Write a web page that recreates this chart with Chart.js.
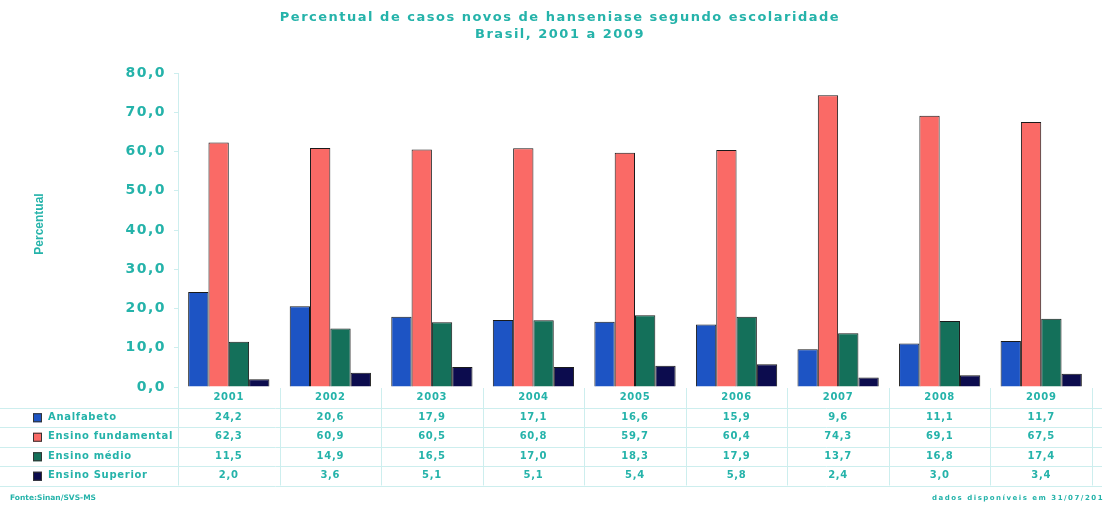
<!DOCTYPE html>
<html>
<head>
<meta charset="utf-8">
<script src="https://cdn.jsdelivr.net/npm/chart.js@4.4.3/dist/chart.umd.min.js"></script>
<style>
  html, body { margin: 0; padding: 0; background: #fff; }
  #wrap { width: 1106px; height: 510px; position: relative; }
</style>
</head>
<body>
<div id="wrap"><canvas id="chart"></canvas></div>
<script>
// dados (Sinan/SVS-MS)
const anos = ["2001", "2002", "2003", "2004", "2005", "2006", "2007", "2008", "2009"];
const analfabeto = [24.2, 20.6, 17.9, 17.1, 16.6, 15.9, 9.6, 11.1, 11.7];
const fundamental = [62.3, 60.9, 60.5, 60.8, 59.7, 60.4, 74.3, 69.1, 67.5];
const medio = [11.5, 14.9, 16.5, 17.0, 18.3, 17.9, 13.7, 16.8, 17.4];
const superior = [2.0, 3.6, 5.1, 5.1, 5.4, 5.8, 2.4, 3.0, 3.4];
const seriesNomes = ["Analfabeto", "Ensino fundamental", "Ensino médio", "Ensino Superior"];
const yTicks = [0, 10, 20, 30, 40, 50, 60, 70, 80];

const TEAL = "#25b3aa";
const LINE = "#cdeeee";
const FONT = "'DejaVu Sans', Verdana, sans-serif";
const cores = ["#1d54c4", "#fa6a66", "#14705a", "#0c0c4e"];

const fmt = (v) => v.toFixed(1).replace(".", ",");

// espacamento das letras para os rotulos do eixo y
const espaco = {
  id: "espaco",
  beforeDraw(chart) { chart.ctx.letterSpacing = "1.5px"; },
  afterDatasetsDraw(chart) { chart.ctx.letterSpacing = "0px"; },
};

// titulo, rodape, eixo e tabela de dados
const extras = {
  id: "extras",
  afterDraw(chart) {
    const { ctx, scales: { x }, chartArea } = chart;
    const W = chart.width;
    ctx.save();
    ctx.fillStyle = TEAL;
    ctx.textAlign = "center";
    ctx.textBaseline = "middle";
    ctx.letterSpacing = "1.5px";
    ctx.font = "bold 13px " + FONT;
    ctx.fillText("Percentual de casos novos de hanseniase segundo escolaridade", 560, 18);
    ctx.fillText("Brasil, 2001 a 2009", 560, 35);

    // titulo do eixo y
    ctx.save();
    ctx.letterSpacing = "0px";
    ctx.translate(40, 224);
    ctx.rotate(-Math.PI / 2);
    ctx.font = "bold 12px 'Liberation Sans Narrow', 'Liberation Sans', sans-serif";
    ctx.fillText("Percentual", 0, 0);
    ctx.restore();

    // tabela
    const top = chartArea.bottom + 1;
    const rowH = 19.5;
    const rows = [analfabeto, fundamental, medio, superior];
    const half = (x.getPixelForValue(1) - x.getPixelForValue(0)) / 2;
    ctx.strokeStyle = LINE;
    ctx.lineWidth = 1;
    for (let r = 1; r <= 5; r++) {
      const yy = Math.round(top + r * rowH) + 0.5;
      ctx.beginPath();
      ctx.moveTo(0, yy);
      ctx.lineTo(W - 4, yy);
      ctx.stroke();
    }
    for (let i = 0; i <= anos.length; i++) {
      const xx = Math.round(x.getPixelForValue(i) - half) + 0.5;
      ctx.beginPath();
      ctx.moveTo(xx, top);
      ctx.lineTo(xx, top + 5 * rowH);
      ctx.stroke();
    }
    ctx.letterSpacing = "0.7px";
    ctx.font = "bold 10px " + FONT;
    anos.forEach((a, i) => ctx.fillText(a, x.getPixelForValue(i), top + 0.5 * rowH));
    rows.forEach((vals, r) => {
      const cy = top + (r + 1.5) * rowH;
      ctx.fillStyle = cores[r];
      ctx.fillRect(33, cy - 4, 9, 9);
      ctx.strokeStyle = "#333";
      ctx.strokeRect(33.5, cy - 3.5, 8, 8);
      ctx.fillStyle = TEAL;
      ctx.textAlign = "left";
      ctx.fillText(seriesNomes[r], 48, cy);
      ctx.textAlign = "center";
      vals.forEach((v, i) => ctx.fillText(fmt(v), x.getPixelForValue(i), cy));
    });

    // rodape
    ctx.textAlign = "left";
    ctx.letterSpacing = "0px";
    ctx.font = "bold 7.5px " + FONT;
    ctx.fillText("Fonte:Sinan/SVS-MS", 10, 498);
    ctx.textAlign = "right";
    ctx.letterSpacing = "1.5px";
    ctx.font = "bold 7px " + FONT;
    ctx.fillText("dados disponíveis em 31/07/201", 1104, 498);
    ctx.restore();
  },
};

new Chart(document.getElementById("chart"), {
  type: "bar",
  data: {
    labels: anos,
    datasets: [analfabeto, fundamental, medio, superior].map((d, i) => ({
      label: seriesNomes[i],
      data: d,
      backgroundColor: cores[i],
      borderColor: "#1a1a1a",
      borderWidth: 1,
      categoryPercentage: 0.8,
      barPercentage: 1.0,
    })),
  },
  options: {
    responsive: true,
    maintainAspectRatio: false,
    animation: false,
    layout: { padding: { top: 73, bottom: 103, left: 0, right: 14 } },
    plugins: { legend: { display: false }, tooltip: { enabled: false } },
    scales: {
      x: {
        grid: { display: false },
        border: { display: false },
        ticks: { display: false },
        afterFit: (s) => { s.height = 20; },
      },
      y: {
        min: 0,
        max: 80,
        afterBuildTicks: (s) => { s.ticks = yTicks.map((v) => ({ value: v })); },
        grid: { drawOnChartArea: false, drawTicks: true, tickLength: 4, color: LINE },
        border: { display: true, color: LINE },
        ticks: { color: TEAL, padding: 8, font: { family: FONT, size: 14, weight: "bold" }, callback: (v) => fmt(v) },
        afterFit: (s) => { s.width = 178; },
      },
    },
  },
  plugins: [espaco, extras],
});
</script>
</body>
</html>
